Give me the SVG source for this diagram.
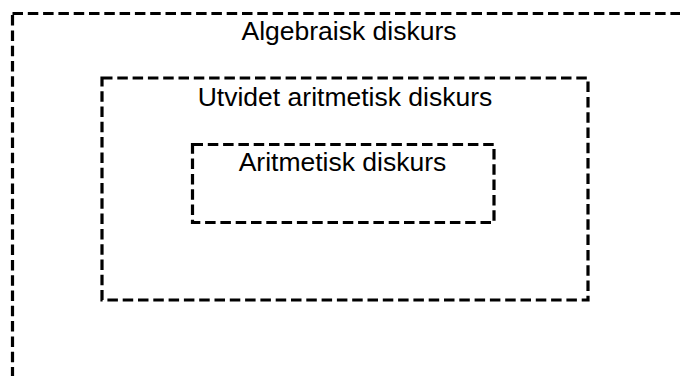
<svg xmlns="http://www.w3.org/2000/svg" width="680" height="376" viewBox="0 0 680 376">
  <style>
    .frame { fill: none; stroke: #000; stroke-width: 3.2; stroke-dasharray: 10.5 4.8; }
    .label { font-family: "Liberation Sans", Arial, sans-serif; font-size: 26.5px; fill: #000; text-anchor: middle; }
  </style>
  <rect width="680" height="376" fill="#fff"/>
  <!-- outermost domain, running past the right and bottom edges -->
  <g id="algebraisk">
    <rect class="frame" x="12.5" y="13.5" width="700" height="400"/>
    <text class="label" x="349" y="40">Algebraisk diskurs</text>
  </g>
  <g id="utvidet">
    <rect class="frame" x="102" y="78" width="486" height="222"/>
    <text class="label" x="345" y="106">Utvidet aritmetisk diskurs</text>
  </g>
  <g id="aritmetisk">
    <rect class="frame" x="192.5" y="144.5" width="301.5" height="78"/>
    <text class="label" x="342.5" y="171">Aritmetisk diskurs</text>
  </g>
  <g id="connectors"/>
</svg>
